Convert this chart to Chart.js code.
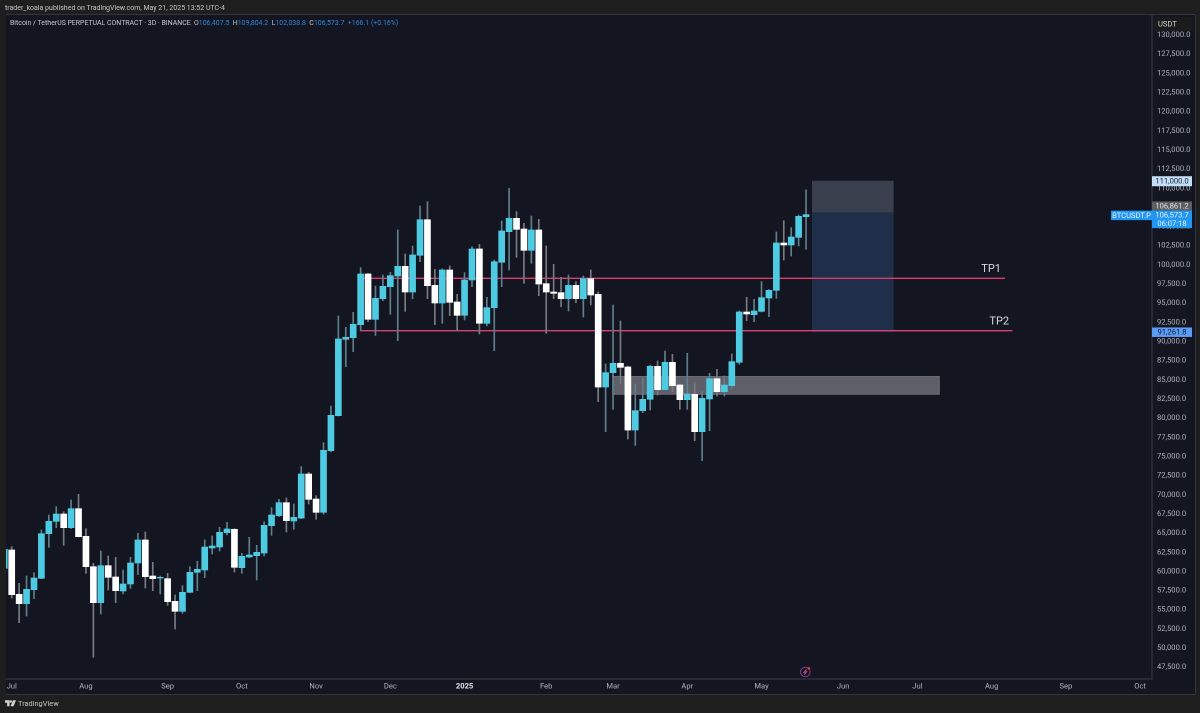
<!DOCTYPE html>
<html>
<head>
<meta charset="utf-8">
<script src="https://cdn.jsdelivr.net/npm/chart.js@4"></script>
<style>
  html, body { margin: 0; padding: 0; background: #1e1e1e; width: 1200px; height: 713px; overflow: hidden; }
  canvas { position: absolute; left: 0; top: 0; }
  .txt { position: absolute; font-family: Roboto, sans-serif; white-space: nowrap; }
  #published { left: 5px; top: 3px; font-size: 7px; line-height: 10px; color: #c4c4c4; }
  #symbol { left: 10px; top: 18px; font-size: 6.95px; line-height: 10px; color: #c3c6ce; }
  #symbol b { font-weight: 400; color: #2f86d8; }
  #brand { left: 18px; top: 698px; font-size: 7.4px; line-height: 12px; color: #c4c4c4; }
  #logo { position: absolute; left: 5px; top: 700px; }
</style>
</head>
<body>
<canvas id="chart" width="1200" height="713"></canvas>
<div class="txt" id="published">trader_koala published on TradingView.com, May 21, 2025 13:52 UTC-4</div>
<div class="txt" id="symbol">Bitcoin / TetherUS PERPETUAL CONTRACT · 3D · BINANCE &nbsp;O<b>106,407.5</b> &nbsp;H<b>109,804.2</b> &nbsp;L<b>102,038.8</b> &nbsp;C<b>106,573.7</b> &nbsp;<b>+166.1 (+0.16%)</b></div>
<svg id="logo" width="11" height="6.5" viewBox="0 0 36 20"><path fill="#d0d0d0" d="M0 0h15v20H7V8H0zM19 0a4 4 0 1 1 0 8 4 4 0 0 1 0-8zM26 0h10l-8 20H18z"/></svg>
<div class="txt" id="brand">TradingView</div>

<script>
// 3D candles, first one is cut by the left edge
const opens = [
  60415, 62808, 57022, 55805, 57631, 59110, 64940, 66549, 67506, 65722,
  68202, 64592, 60633, 55935, 60763, 59284, 57457, 58371, 61112, 64113,
  59415, 59154, 59067, 56109, 54804, 57283, 59894, 60198, 63069, 63199,
  65070, 65504, 60502, 61894, 62068, 62416, 65983, 67288, 68984, 66592,
  66983, 72725, 69463, 67723, 75770, 80338, 90300, 90517, 92213, 98826,
  92909, 95606, 97173, 98565, 99826, 96476, 101262, 105916, 97346, 95041,
  99348, 95172, 93431, 98043, 102088, 92388, 94432, 100348, 104350, 106090,
  104698, 101914, 104568, 97564, 96476, 96390, 95606, 97346, 95606, 98216,
  96176, 84079, 85950, 87167, 86689, 78468, 80990, 82470, 86776, 83731,
  87298, 84340, 82426, 83122, 78250, 82513, 85166, 83470, 84253, 87298,
  93866, 93518, 93953, 95693, 96694, 102871, 102610, 103610, 106308
];
const highs = [
  63400, 63243, 58458, 59415, 59850, 65418, 67375, 68463, 67810, 69333,
  70073, 65592, 61068, 62678, 62025, 61851, 60198, 61851, 64983, 65157,
  61199, 59415, 59763, 56936, 58153, 60633, 61329, 64113, 64635, 65765,
  66418, 65600, 62373, 64460, 63416, 66505, 68332, 69419, 69593, 68810,
  73682, 72943, 69897, 76814, 81600, 93344, 91865, 93823, 99652, 98900,
  97259, 98695, 99043, 104568, 101436, 102479, 107699, 108265, 99434, 99500,
  99870, 96172, 99000, 102393, 102697, 95780, 100653, 105742, 110005, 106960,
  105438, 106395, 105960, 102479, 100087, 98390, 98695, 97825, 98565, 99348,
  96500, 87080, 94780, 92692, 86800, 84470, 85210, 86950, 87472, 88777,
  88342, 84470, 88472, 84644, 83470, 85862, 86384, 85514, 88385, 94000,
  95780, 95519, 97825, 96800, 104306, 105785, 104872, 106525, 109804
];
const lows = [
  59900, 56544, 53325, 54195, 56457, 59067, 63156, 65722, 63417, 65600,
  64500, 59763, 48801, 54456, 57588, 55935, 57066, 57805, 59589, 57849,
  57501, 57066, 55587, 52499, 54543, 57240, 57501, 59198, 62285, 62677,
  64765, 59937, 59763, 61807, 58892, 62024, 64721, 67157, 65156, 65504,
  66896, 68810, 66809, 67505, 75596, 80300, 86732, 88690, 91430, 92605,
  90821, 95345, 93562, 90126, 93953, 95606, 100435, 95606, 92213, 92388,
  93388, 91430, 92822, 97173, 90996, 92083, 88820, 97173, 99348, 101001,
  97608, 100218, 95998, 91083, 95606, 94563, 93997, 95084, 93214, 94780,
  82165, 78250, 81164, 84558, 77293, 76467, 80730, 81078, 83035, 83688,
  83470, 81164, 81164, 77075, 74465, 78380, 82905, 82905, 83861, 87038,
  92735, 92605, 93866, 93258, 95650, 100653, 101175, 102479, 102038
];
const closes = [
  62895, 56979, 55805, 57675, 59154, 64940, 66549, 67506, 65722, 68202,
  64548, 60633, 55935, 60763, 59241, 57501, 58371, 61112, 64113, 59328,
  59067, 59241, 56065, 54804, 57283, 59894, 60285, 63199, 63330, 65113,
  65548, 60546, 61981, 62155, 62503, 66027, 67375, 68984, 66635, 67070,
  72725, 69419, 67723, 75814, 80381, 90343, 90560, 92257, 98826, 92909,
  95650, 97216, 98608, 99826, 96476, 101305, 105916, 97303, 95041, 99348,
  95128, 93431, 98043, 102088, 92388, 94432, 100435, 104437, 106090, 104654,
  101914, 104568, 97520, 96476, 96303, 95606, 97346, 95606, 98216, 96085,
  84079, 85950, 87167, 86645, 78468, 80990, 82470, 86776, 83731, 87298,
  84253, 82426, 83165, 78250, 82600, 85166, 83470, 84340, 87385, 93866,
  93605, 93997, 95737, 96694, 102871, 102610, 103654, 106351, 106573.7
];

const monthTicks = [0, 10, 21, 31, 41, 51, 61, 72, 81, 91, 101, 112, 122, 132, 142, 152];
const monthLabels = ["Jul", "Aug", "Sep", "Oct", "Nov", "Dec", "2025", "Feb", "Mar", "Apr", "May", "Jun", "Jul", "Aug", "Sep", "Oct"];
const priceTicks = [
  47500, 50000, 52500, 55000, 57500, 60000, 62500, 65000, 67500, 70000,
  72500, 75000, 77500, 80000, 82500, 85000, 87500, 90000, 92500, 95000,
  97500, 100000, 102500, 105000, 107500, 110000, 112500, 115000, 117500,
  120000, 122500, 125000, 127500, 130000
];

// drawings, in candle index / price
const tp1Idx = [46.9, 133.8];
const tp1Price = [98264, 98264];
const tp2Idx = [46.9, 134.8];
const tp2Price = [91430, 91430];
const stopBox = [107.8, 118.8, 111000, 106861.2];
const targetBox = [107.8, 118.8, 106861.2, 91261.8];
const demandBox = [80.9, 125, 85500, 83080];

const UP = "#4ccbe2", DOWN = "#ffffff";
const WICK_UP = "#5f7f8d", WICK_DOWN = "#787b82";
const AXIS_FONT = "Roboto, sans-serif";
const TEXT = "#b2b5be";

const fmt = v => v.toLocaleString("en-US", { minimumFractionDigits: 1, maximumFractionDigits: 1 });
const candleX = opens.map((_, i) => i - 1);
const isUp = i => closes[i] >= opens[i];

function fillBox(ctx, x, y, box, fill, stroke) {
  const l = x.getPixelForValue(box[0]), r = x.getPixelForValue(box[1]);
  const t = y.getPixelForValue(box[2]), b = y.getPixelForValue(box[3]);
  ctx.fillStyle = fill;
  ctx.fillRect(l, t, r - l, b - t);
  if (stroke) {
    ctx.strokeStyle = stroke;
    ctx.lineWidth = 1;
    ctx.strokeRect(l + 0.5, t + 0.5, r - l - 1, b - t - 1);
  }
}

function tag(ctx, l, w, top, h, bg, fg, lines) {
  ctx.fillStyle = bg;
  ctx.fillRect(l, top, w, h);
  ctx.fillStyle = fg;
  ctx.font = "7.6px " + AXIS_FONT;
  ctx.textAlign = "center";
  ctx.textBaseline = "middle";
  lines.forEach((s, i) => ctx.fillText(s, l + w / 2, top + (i + 0.5) * h / lines.length + 0.5));
}

const drawings = {
  id: "drawings",
  beforeDraw(chart) {
    const ctx = chart.ctx;
    ctx.save();
    ctx.fillStyle = "#131621";
    ctx.fillRect(6, 15, 1189, 679);
    ctx.restore();
  },
  beforeDatasetsDraw(chart) {
    const ctx = chart.ctx, x = chart.scales.x, y = chart.scales.y;
    ctx.save();
    fillBox(ctx, x, y, stopBox, "#3a3f4d");
    fillBox(ctx, x, y, targetBox, "#1f2e49");
    fillBox(ctx, x, y, demandBox, "#5e5f68", "#6d6e76");
    ctx.restore();
  },
  afterDraw(chart) {
    const ctx = chart.ctx, x = chart.scales.x, y = chart.scales.y;
    ctx.save();

    ctx.fillStyle = "#d8dae0";
    ctx.font = "11px " + AXIS_FONT;
    ctx.textAlign = "left";
    ctx.textBaseline = "middle";
    ctx.fillText("TP1", x.getPixelForValue(130.6), y.getPixelForValue(tp1Price[0]) - 9);
    ctx.fillText("TP2", x.getPixelForValue(131.7), y.getPixelForValue(tp2Price[0]) - 9);

    // price tags on the right axis
    const ax = 1152, w = 40;
    tag(ctx, ax, w, y.getPixelForValue(111000) - 4.5, 10, "#c3def9", "#20242e", ["111,000.0"]);
    tag(ctx, ax, w, y.getPixelForValue(106861.2) - 11, 9.5, "#5d5e64", "#e4e4e6", ["106,861.2"]);
    tag(ctx, ax, w, y.getPixelForValue(106573.7) - 4, 17.5, "#2196f3", "#e9f4fe", ["106,573.7", "06:07:18"]);
    tag(ctx, ax - 41, 41, y.getPixelForValue(106573.7) - 4, 9.5, "#2196f3", "#e9f4fe", ["BTCUSDT.P"]);
    tag(ctx, ax, w, y.getPixelForValue(91261.8) - 4.5, 9.5, "#5b9cf6", "#141824", ["91,261.8"]);

    // currency button
    ctx.fillStyle = "#1b1b1d";
    ctx.beginPath();
    ctx.roundRect(ax + 1.5, 17, 39.5, 14, 2);
    ctx.fill();
    ctx.fillStyle = "#d4d5d9";
    ctx.font = "7.6px " + AXIS_FONT;
    ctx.textAlign = "left";
    ctx.fillText("USDT", ax + 6, 24.5);

    // news/bolt marker under the last candle
    const bx = x.getPixelForValue(106.9), by = 672;
    ctx.strokeStyle = "#7a3a94";
    ctx.lineWidth = 1;
    ctx.beginPath();
    ctx.arc(bx, by, 4.8, 0, Math.PI * 2);
    ctx.stroke();
    ctx.strokeStyle = "#c2536f";
    ctx.beginPath();
    ctx.moveTo(bx + 1.2, by - 2.6);
    ctx.lineTo(bx - 1.4, by + 0.4);
    ctx.lineTo(bx + 1.2, by - 0.2);
    ctx.lineTo(bx - 1, by + 2.8);
    ctx.stroke();
    ctx.fillStyle = "#e53a4f";
    ctx.beginPath();
    ctx.arc(bx + 3.6, by - 3.6, 1.3, 0, Math.PI * 2);
    ctx.fill();

    // outer frame of the time axis strip
    ctx.strokeStyle = "#33363f";
    ctx.beginPath();
    ctx.moveTo(6, 694.5);
    ctx.lineTo(1195, 694.5);
    ctx.moveTo(1195.5, 15);
    ctx.lineTo(1195.5, 694);
    ctx.moveTo(6, 14.5);
    ctx.lineTo(1195, 14.5);
    ctx.stroke();
    ctx.restore();
  }
};

new Chart(document.getElementById("chart"), {
  data: {
    datasets: [
      {
        type: "bar",
        data: candleX.map((x, i) => ({ x, y: [opens[i], closes[i]] })),
        backgroundColor: candleX.map((_, i) => isUp(i) ? UP : DOWN),
        barThickness: 6,
        grouped: false,
        order: 0
      },
      {
        type: "bar",
        data: candleX.map((x, i) => ({ x, y: [lows[i], highs[i]] })),
        backgroundColor: candleX.map((_, i) => isUp(i) ? WICK_UP : WICK_DOWN),
        barThickness: 1,
        grouped: false,
        order: 1
      },
      {
        type: "line",
        data: tp1Idx.map((x, i) => ({ x, y: tp1Price[i] })),
        borderColor: "#d9406f",
        borderWidth: 1.4,
        pointRadius: 0,
        order: 2
      },
      {
        type: "line",
        data: tp2Idx.map((x, i) => ({ x, y: tp2Price[i] })),
        borderColor: "#d9406f",
        borderWidth: 1.4,
        pointRadius: 0,
        order: 3
      }
    ]
  },
  options: {
    responsive: false,
    animation: false,
    devicePixelRatio: 2,
    layout: { padding: { left: 6, right: 5, top: 15, bottom: 19 } },
    plugins: { legend: { display: false }, tooltip: { enabled: false } },
    scales: {
      x: {
        type: "linear",
        offset: false,
        min: -0.77,
        max: 153.6,
        afterBuildTicks: ax => { ax.ticks = monthTicks.map(value => ({ value })); },
        afterFit: ax => { ax.height = 15; },
        grid: { display: false, drawTicks: false },
        border: { display: true, color: "#3a3d47" },
        ticks: {
          autoSkip: false,
          maxRotation: 0,
          padding: 3,
          color: ctx => monthLabels[ctx.index] === "2025" ? "#e6e7eb" : TEXT,
          font: ctx => ({
            family: AXIS_FONT,
            size: 7.6,
            weight: monthLabels[ctx.index] === "2025" ? "700" : "400"
          }),
          callback: (v, i) => monthLabels[i]
        }
      },
      y: {
        type: "linear",
        position: "right",
        min: 45973,
        max: 132625,
        afterBuildTicks: ax => { ax.ticks = priceTicks.map(value => ({ value })); },
        afterFit: ax => { ax.width = 43; },
        grid: { display: false, drawTicks: false },
        border: { display: true, color: "#3a3d47" },
        ticks: {
          autoSkip: false,
          padding: 5,
          color: TEXT,
          font: { family: AXIS_FONT, size: 7.6 },
          callback: v => fmt(v)
        }
      }
    }
  },
  plugins: [drawings]
});
</script>
</body>
</html>
